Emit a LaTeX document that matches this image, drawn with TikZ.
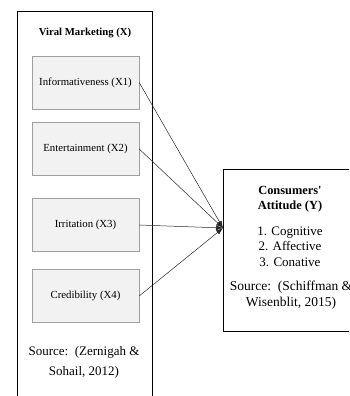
\documentclass[tikz,border=0pt]{standalone}
\usepackage{fontspec}
\setmainfont{Liberation Serif}
\usetikzlibrary{arrows.meta}
\begin{document}
\begin{tikzpicture}[
    x=1pt, y=-1pt,
    dim/.style={draw=gray!75, fill=gray!10, minimum width=107pt, minimum height=53pt, font=\fontsize{10.8}{12}\selectfont},
    link/.style={-{Latex[length=7pt,width=5pt]}, draw=black!85, line width=0.5pt}
]
    \useasboundingbox (0,0) rectangle (349,396);
    \clip (0,0) rectangle (349,396);

    % Frames
    \draw (17,11) rectangle (152,402);
    \draw (223,169) rectangle (362,331);

    % Viral marketing
    \node[font=\bfseries\fontsize{10.7}{12}\selectfont] (vm) at (85,33) {Viral Marketing (X)};
    \node[dim] (x1) at (85.5,82.5) {Informativeness (X1)};
    \node[dim] (x2) at (85.5,149) {Entertainment (X2)};
    \node[dim] (x3) at (85.5,225) {Irritation (X3)};
    \node[dim] (x4) at (85.5,296) {Credibility (X4)};
    \node[font=\fontsize{13}{20}\selectfont, align=center] (src1) at (84,362) {Source:~~(Zernigah \&\\Sohail, 2012)};

    % Consumers' attitude
    \coordinate (tip) at (223,228);
    \node[font=\bfseries\fontsize{12.4}{15}\selectfont, align=center] (att) at (290,199.5) {Consumers\textquotesingle\\Attitude (Y)};
    \node[font=\fontsize{13}{15.5}\selectfont, align=center] (dims) at (290,246.5) {1. Cognitive\\2. Affective\\3. Conative};
    \node[font=\fontsize{13.5}{16}\selectfont, align=center] (src2) at (291,295) {Source:~~(Schiffman \&\\Wisenblit, 2015)};

    % Links
    \foreach \n in {x1, x2, x3, x4} {
        \draw[link] (\n.east) -- (tip);
    }
\end{tikzpicture}
\end{document}
